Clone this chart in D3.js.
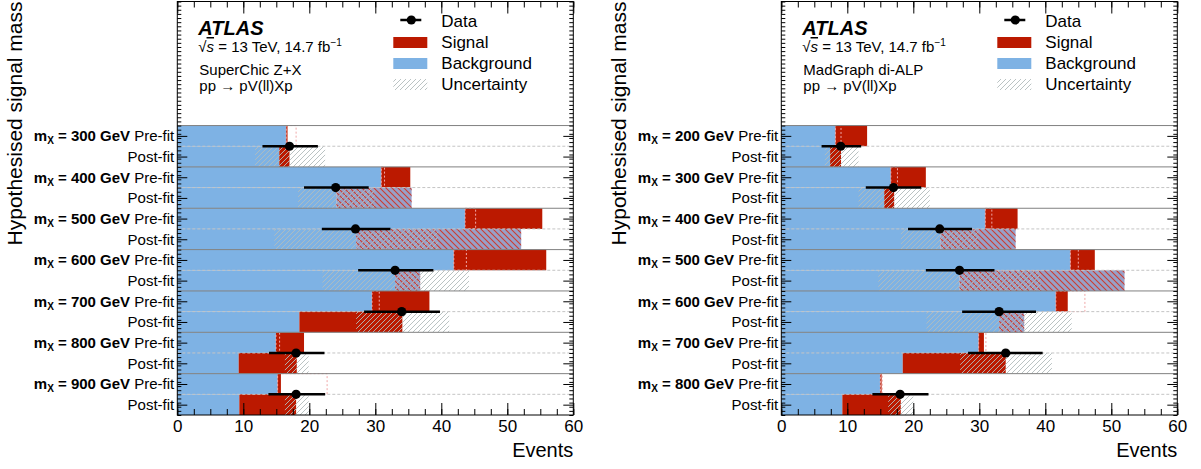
<!DOCTYPE html>
<html><head><meta charset="utf-8">
<script src="https://cdn.jsdelivr.net/npm/d3@7"></script>
<style>body{margin:0;background:#fff} svg text{font-family:"Liberation Sans",Arial,Helvetica,sans-serif}</style>
</head><body><svg id="c" width="1201" height="469"></svg>
<script>
// ---- Left panel (SuperChic Z+X) ----
const leftMasses = ["300","400","500","600","700","800","900"];
const leftPreBkg = [16.5,30.9,43.6,41.9,29.5,14.95,15.2];
const leftPreTot = [16.7,35.3,55.3,55.9,38.2,19.2,15.7];
const leftPreOutline = [18.0,31.4,45.2,43.8,30.6,15.5,22.7];
const leftPostBkg = [15.45,35.5,52.1,36.8,18.5,9.3,9.4];
const leftPostTot = [17.0,24.1,27.1,33.0,34.1,18.1,18.0];
const leftUncLo = [11.8,18.3,14.7,22.0,27.1,16.3,16.3];
const leftUncHi = [22.4,29.9,39.5,44.2,41.2,19.9,19.9];
const leftData = [17,24,27,33,34,18,18];
const leftDataLo = [12.9,19.2,21.9,27.4,28.3,13.9,13.8];
const leftDataHi = [21.3,29.0,32.3,38.8,39.8,22.3,22.4];
// ---- Right panel (MadGraph di-ALP) ----
const rightMasses = ["200","300","400","500","600","700","800"];
const rightPreBkg = [8.2,16.6,30.9,43.8,41.6,29.9,15.0];
const rightPreTot = [13.0,21.9,35.8,47.5,43.4,30.7,15.2];
const rightPreOutline = [9.05,17.6,31.9,45.0,46.0,31.0,15.3];
const rightPostBkg = [7.4,15.6,35.5,52.0,36.8,18.4,9.25];
const rightPostTot = [9.05,17.1,24.1,27.0,33.0,34.0,18.1];
const rightUncLo = [6.6,11.7,18.1,14.7,22.0,27.1,16.2];
const rightUncHi = [11.7,22.5,29.9,39.3,44.0,41.0,20.0];
const rightData = [9,17,24,27,33,34,18];
const rightDataLo = [6.1,12.8,19.2,21.9,27.4,28.3,13.8];
const rightDataHi = [12.1,21.2,28.9,32.3,38.6,39.6,22.3];
// ---- Axis / legend text ----
const xTicks = [0,10,20,30,40,50,60];
const legendLabels = ["Data","Signal","Background","Uncertainty"];
const yTitle = "Hypothesised signal mass";
const xTitle = "Events";

const BLUE = "#7eb2e4", RED = "#bb1900";
const svg = d3.select("#c");
const defs = svg.append("defs");
const pg = defs.append("pattern").attr("id","grayHatch").attr("patternUnits","userSpaceOnUse").attr("width",5).attr("height",5);
pg.append("path").attr("d","M-1,1 l2,-2 M0,5 l5,-5 M4,6 l2,-2").attr("stroke","#b2bcbc").attr("stroke-width",0.9);
const pr = defs.append("pattern").attr("id","redHatch").attr("patternUnits","userSpaceOnUse").attr("width",6).attr("height",6);
pr.append("path").attr("d","M-1,5 l2,2 M0,0 l6,6 M5,-1 l2,2").attr("stroke","#cc3c30").attr("stroke-width",1.1);

function drawPanel(c){
  const x0 = c.x0, W = 396;
  const x = d3.scaleLinear().domain([0,60]).range([x0, x0+W]);
  const y = d3.scaleLinear().domain([0,20]).range([415,1.5]);
  const g = svg.append("g");
  const n = c.masses.length;
  const rowH = y(0)-y(1);
  const preRow = i => 2*n-1-2*i, postRow = i => 2*n-2-2*i;
  const idx = d3.range(n);
  const rectsFrom = (cls, rowF, lo, hi, fill) => g.selectAll("rect."+cls).data(idx).join("rect").attr("class",cls)
      .attr("x", i => x(lo(i))).attr("y", i => y(rowF(i)+1))
      .attr("width", i => Math.max(0, x(hi(i))-x(lo(i)))).attr("height", rowH).attr("fill", fill);
  // pre-fit
  rectsFrom("preB", preRow, i=>0, i=>c.preBkg[i], BLUE);
  rectsFrom("preS", preRow, i=>c.preBkg[i], i=>c.preTot[i], RED);
  rectsFrom("preO", preRow, i=>c.preBkg[i], i=>c.preOutline[i], "none")
    .attr("stroke","#f0a8a8").attr("stroke-width",1).attr("stroke-dasharray","2,2");
  // post-fit
  rectsFrom("postB", postRow, i=>0, i=>Math.min(c.postBkg[i],c.postTot[i]), BLUE);
  rectsFrom("postS", postRow, i=>c.postBkg[i], i=>Math.max(c.postBkg[i],c.postTot[i]), RED);
  rectsFrom("postN", postRow, i=>c.postTot[i], i=>Math.max(c.postBkg[i],c.postTot[i]), "#98a0c8");
  rectsFrom("postNH", postRow, i=>c.postTot[i], i=>Math.max(c.postBkg[i],c.postTot[i]), "url(#redHatch)");
  rectsFrom("unc", postRow, i=>c.uncLo[i], i=>c.uncHi[i], "url(#grayHatch)");
  // separators
  const seps = d3.range(2, 2*n+1, 2), dseps = d3.range(1, 2*n, 2);
  g.selectAll("line.sep").data(seps).join("line").attr("class","sep")
    .attr("x1",x(0)).attr("x2",x(60)).attr("y1",d=>y(d)).attr("y2",d=>y(d))
    .attr("stroke","#808080").attr("stroke-width",1);
  g.selectAll("line.dsep").data(dseps).join("line").attr("class","dsep")
    .attr("x1",x(0)).attr("x2",x(60)).attr("y1",d=>y(d)).attr("y2",d=>y(d))
    .attr("stroke","#c4c4c4").attr("stroke-width",1).attr("stroke-dasharray","3,2");
  // data
  g.selectAll("line.err").data(idx).join("line").attr("class","err")
    .attr("x1",i=>x(c.dataLo[i])).attr("x2",i=>x(c.dataHi[i]))
    .attr("y1",i=>y(preRow(i))).attr("y2",i=>y(preRow(i)))
    .attr("stroke","#000").attr("stroke-width",2.5);
  g.selectAll("circle.pt").data(idx).join("circle").attr("class","pt")
    .attr("cx",i=>x(c.data[i])).attr("cy",i=>y(preRow(i))).attr("r",4.6).attr("fill","#000");
  // axes
  const styleAxis = a => { a.select(".domain").remove(); a.selectAll("line").attr("stroke","#000"); };
  const bot = g.append("g").attr("transform","translate(0,415)")
    .call(d3.axisBottom(x).tickValues(xTicks).tickSizeInner(-12).tickSizeOuter(0).tickPadding(5).tickFormat(d3.format("d")));
  styleAxis(bot);
  bot.selectAll("text").attr("font-size",17).attr("fill","#000").attr("font-family","Liberation Sans, Arial, sans-serif");
  const botMin = g.append("g").attr("transform","translate(0,415)")
    .call(d3.axisBottom(x).tickValues(d3.range(0,60.01,2.5)).tickSize(-6).tickFormat(""));
  styleAxis(botMin);
  const top = g.append("g").attr("transform","translate(0,1.5)")
    .call(d3.axisTop(x).tickValues(xTicks).tickSize(-12).tickFormat(""));
  styleAxis(top);
  const topMin = g.append("g").attr("transform","translate(0,1.5)")
    .call(d3.axisTop(x).tickValues(d3.range(0,60.01,2.5)).tickSize(-6).tickFormat(""));
  styleAxis(topMin);
  [[d3.axisLeft, x0],[d3.axisRight, x0+W]].forEach(([ax,px])=>{
    const a1 = g.append("g").attr("transform",`translate(${px},0)`)
      .call(ax(y).tickValues(d3.range(0.5,2*n,1)).tickSize(-10).tickFormat(""));
    styleAxis(a1);
    const a2 = g.append("g").attr("transform",`translate(${px},0)`)
      .call(ax(y).tickValues(d3.range(0,20.01,0.2)).tickSize(-4).tickFormat(""));
    styleAxis(a2);
  });
  // frame
  g.append("rect").attr("x",x0).attr("y",1.5).attr("width",W).attr("height",415-1.5)
    .attr("fill","none").attr("stroke","#000").attr("stroke-width",1);
  // y labels
  idx.forEach(i=>{
    const t = g.append("text").attr("x",x0-3).attr("y",y(preRow(i)+0.5)).attr("dy","0.36em")
      .attr("text-anchor","end").attr("font-size",15).attr("fill","#000");
    t.append("tspan").attr("font-weight","bold").text("m");
    t.append("tspan").attr("font-weight","bold").attr("font-size",10).attr("dy",3).text("X");
    t.append("tspan").attr("font-weight","bold").attr("dy",-3).text(" = " + c.masses[i] + " GeV");
    t.append("tspan").text(" Pre-fit");
    g.append("text").attr("x",x0-3).attr("y",y(postRow(i)+0.5)).attr("dy","0.36em")
      .attr("text-anchor","end").attr("font-size",15).attr("fill","#000").text("Post-fit");
  });
  // titles
  g.append("text").attr("transform",`translate(${x0-155},1.5) rotate(-90)`).attr("text-anchor","end")
    .attr("font-size",21).attr("fill","#000").text(yTitle);
  g.append("text").attr("x",x0+W).attr("y",457).attr("text-anchor","end").attr("font-size",20).attr("fill","#000").text(xTitle);
  // ATLAS label
  g.append("text").attr("x",x0+21).attr("y",35).attr("font-size",20).attr("font-weight","bold").attr("font-style","italic").text("ATLAS");
  const s = g.append("text").attr("x",x0+21).attr("y",52).attr("font-size",15);
  s.append("tspan").text("√");
  s.append("tspan").attr("font-style","italic").attr("text-decoration","overline").text("s");
  s.append("tspan").text(" = 13 TeV, 14.7 fb");
  s.append("tspan").attr("font-size",10).attr("dy",-6).text("−1");
  g.append("text").attr("x",x0+22).attr("y",75).attr("font-size",15).text(c.gen);
  g.append("text").attr("x",x0+22).attr("y",91).attr("font-size",15).text("pp → pV(ll)Xp");
  // legend
  const lx = x0+216, tx = x0+264;
  g.append("line").attr("x1",lx+7).attr("x2",lx+28).attr("y1",20).attr("y2",20).attr("stroke","#000").attr("stroke-width",2.5);
  g.append("circle").attr("cx",lx+18).attr("cy",20).attr("r",4.6).attr("fill","#000");
  g.append("rect").attr("x",lx).attr("y",37).attr("width",34).attr("height",11).attr("fill",RED);
  g.append("rect").attr("x",lx).attr("y",58).attr("width",34).attr("height",11).attr("fill",BLUE);
  g.append("rect").attr("x",lx).attr("y",79).attr("width",34).attr("height",11).attr("fill","url(#grayHatch)");
  const ly = [27,48,69,90];
  legendLabels.forEach((l,k)=> g.append("text").attr("x",tx).attr("y",ly[k]).attr("font-size",17).text(l));
}

drawPanel({x0:177.3, masses:leftMasses, preBkg:leftPreBkg, preTot:leftPreTot, preOutline:leftPreOutline,
  postBkg:leftPostBkg, postTot:leftPostTot, uncLo:leftUncLo, uncHi:leftUncHi,
  data:leftData, dataLo:leftDataLo, dataHi:leftDataHi, gen:"SuperChic Z+X"});
drawPanel({x0:781.3, masses:rightMasses, preBkg:rightPreBkg, preTot:rightPreTot, preOutline:rightPreOutline,
  postBkg:rightPostBkg, postTot:rightPostTot, uncLo:rightUncLo, uncHi:rightUncHi,
  data:rightData, dataLo:rightDataLo, dataHi:rightDataHi, gen:"MadGraph di-ALP"});
</script></body></html>
